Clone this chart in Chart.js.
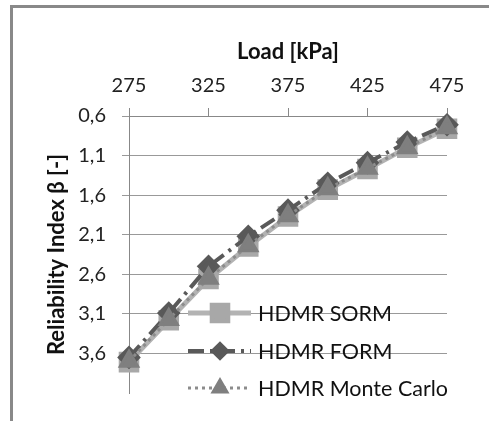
<!DOCTYPE html>
<html>
<head>
<meta charset="utf-8">
<script src="https://cdn.jsdelivr.net/npm/chart.js@4.4.1/dist/chart.umd.min.js"></script>
<style>
body { margin: 0; background: #fff; }
#frame { position: absolute; left: 10px; top: 5px; width: 600px; height: 600px; border: 3px solid #898989; }
#wrap { position: absolute; left: 0; top: 0; width: 489px; height: 421px; }
</style>
</head>
<body>
<div id="frame"></div>
<div id="wrap"><canvas id="chart" width="489" height="421"></canvas></div>
<script>
// load steps (kPa) and reliability index beta for each method
const loads = [275, 300, 325, 350, 375, 400, 425, 450, 475];
const sormBeta = [3.71, 3.18, 2.66, 2.25, 1.87, 1.53, 1.27, 1.00, 0.76];
const formBeta = [3.65, 3.09, 2.50, 2.12, 1.79, 1.45, 1.19, 0.93, 0.71];
const mcBeta = [3.70, 3.17, 2.65, 2.24, 1.86, 1.52, 1.26, 1.00, 0.75];
const seriesNames = ['HDMR SORM', 'HDMR FORM', 'HDMR Monte Carlo'];
const loadTicks = [275, 325, 375, 425, 475];
const betaTicks = [0.6, 1.1, 1.6, 2.1, 2.6, 3.1, 3.6];

const fam = 'Lato, "Open Sans", sans-serif';

function pts(ys) {
    return loads.map((x, i) => ({ x: x, y: ys[i] }));
}

// legend drawn inside the plot, Excel style (line sample with marker in the middle)
const insideLegend = {
    id: 'insideLegend',
    afterDatasetsDraw(chart) {
        const ctx = chart.ctx;
        const rowY = [313, 351, 388];
        const x0 = 188, x1 = 251, xm = 220;
        chart.data.datasets.forEach((ds, i) => {
            const y = rowY[i];
            ctx.save();
            ctx.strokeStyle = ds.borderColor;
            ctx.lineWidth = ds.borderWidth;
            ctx.setLineDash(ds.borderDash || []);
            ctx.beginPath();
            ctx.moveTo(x0, y);
            ctx.lineTo(x1, y);
            ctx.stroke();
            ctx.setLineDash([]);
            ctx.fillStyle = ds.pointBackgroundColor;
            ctx.strokeStyle = ds.pointBorderColor;
            Chart.helpers.drawPoint(ctx, { pointStyle: ds.pointStyle, radius: ds.legendRadius, borderWidth: 1, rotation: 0 }, xm, y);
            ctx.fillStyle = '#111';
            ctx.font = '21.5px ' + fam;
            ctx.textBaseline = 'middle';
            ctx.textAlign = 'left';
            ctx.fillText(ds.label, 258, y + 1);
            ctx.restore();
        });
    }
};

const ctx = document.getElementById('chart').getContext('2d');
new Chart(ctx, {
    type: 'line',
    data: {
        datasets: [{
            label: seriesNames[0],
            data: pts(sormBeta),
            borderColor: '#b3b3b3',
            borderWidth: 5,
            pointStyle: 'rect',
            pointRadius: 11,
            legendRadius: 11,
            pointBackgroundColor: '#a8a8a8',
            pointBorderColor: '#a8a8a8',
            order: 3,
            clip: false
        }, {
            label: seriesNames[1],
            data: pts(formBeta),
            borderColor: '#595959',
            borderWidth: 4,
            borderDash: [16, 6, 3, 6],
            pointStyle: 'rectRot',
            pointRadius: 9,
            legendRadius: 7,
            pointBackgroundColor: '#595959',
            pointBorderColor: '#595959',
            order: 2,
            clip: false
        }, {
            label: seriesNames[2],
            data: pts(mcBeta),
            borderColor: '#8c8c8c',
            borderWidth: 3,
            borderDash: [3, 4],
            pointStyle: 'triangle',
            pointRadius: 10,
            legendRadius: 8,
            pointBackgroundColor: '#7f7f7f',
            pointBorderColor: '#7f7f7f',
            order: 1,
            clip: false
        }]
    },
    options: {
        responsive: false,
        animation: false,
        layout: { padding: { left: 0, right: 42, top: 0, bottom: 13 } },
        plugins: {
            legend: { display: false },
            tooltip: { enabled: false }
        },
        scales: {
            x: {
                type: 'linear',
                position: 'top',
                min: 275,
                max: 475,
                afterBuildTicks: s => { s.ticks = loadTicks.map(v => ({ value: v })); },
                afterFit: s => { s.height = 116; },
                grid: { drawOnChartArea: false, drawTicks: true, tickLength: 8, color: '#888' },
                border: { display: true, color: '#888' },
                ticks: { color: '#222', font: { family: fam, size: 20 }, padding: 10, maxRotation: 0 },
                title: {
                    display: true,
                    text: 'Load [kPa]',
                    color: '#111',
                    font: { family: fam, size: 22, weight: 'bold' },
                    padding: { top: 39, bottom: 0 }
                }
            },
            y: {
                type: 'linear',
                reverse: true,
                min: 0.6,
                max: 4.1,
                afterBuildTicks: s => { s.ticks = betaTicks.map(v => ({ value: v })); },
                afterFit: s => { s.width = 129; },
                grid: { color: '#999', tickLength: 7 },
                border: { display: true, color: '#888' },
                ticks: {
                    color: '#222',
                    font: { family: fam, size: 20 },
                    padding: 16,
                    callback: v => v.toFixed(1).replace('.', ',')
                },
                title: {
                    display: true,
                    text: 'Reliability Index β [-]',
                    color: '#111',
                    font: { family: fam, size: 22, weight: 'bold' },
                    padding: { top: 44, bottom: 0 }
                }
            }
        }
    },
    plugins: [insideLegend]
});
</script>
</body>
</html>
